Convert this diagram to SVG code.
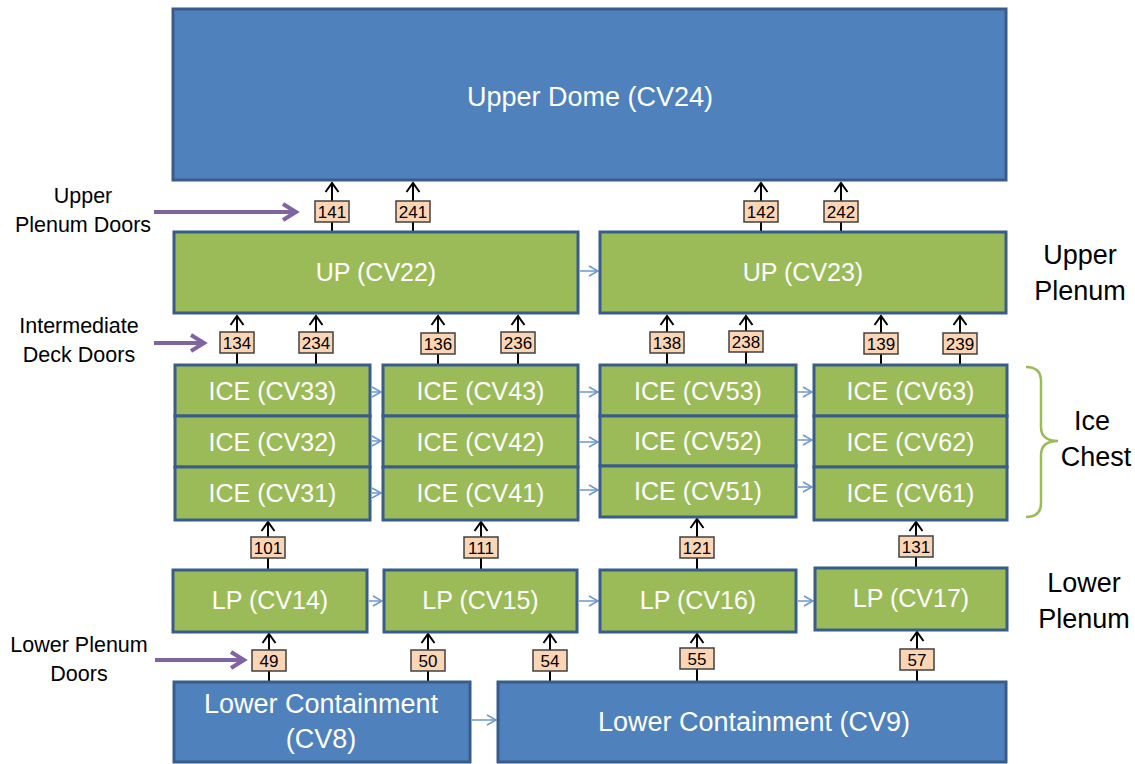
<svg xmlns="http://www.w3.org/2000/svg" width="1135" height="764" viewBox="0 0 1135 764">
<defs>
<style>
.blue{fill:#4f81bd;stroke:#385d8a;stroke-width:3}
.green{fill:#9bbb59;stroke:#385d8a;stroke-width:3}
.nt{font-family:"Liberation Sans",Arial,sans-serif;fill:#fff;text-anchor:middle;font-size:25px}
.big{font-size:27px}
.side{font-family:"Liberation Sans",Arial,sans-serif;fill:#000;text-anchor:middle;font-size:21.5px}
.rl{font-family:"Liberation Sans",Arial,sans-serif;fill:#000;text-anchor:middle;font-size:27px}
.door rect{fill:#fcd5b5;stroke:#404040;stroke-width:1.5}
.door text{font-family:"Liberation Sans",Arial,sans-serif;font-size:17px;fill:#000;text-anchor:middle}
.door line{stroke:#000;stroke-width:2;marker-end:url(#ah)}
.lb{stroke:#6d97cf;stroke-width:1.5;marker-end:url(#ahb)}
.pu{stroke:#8064a2;stroke-width:4;marker-end:url(#ahp)}
</style>
<marker id="ah" markerUnits="userSpaceOnUse" markerWidth="24" markerHeight="24" viewBox="-12 -12 24 24" refX="0" refY="0" orient="auto" overflow="visible"><path d="M-9,-6.5 L0,0 L-9,6.5" fill="none" stroke="#000" stroke-width="2"/></marker>
<marker id="ahb" markerUnits="userSpaceOnUse" markerWidth="24" markerHeight="24" viewBox="-12 -12 24 24" refX="0" refY="0" orient="auto" overflow="visible"><path d="M-9,-5 L0,0 L-9,5" fill="none" stroke="#6d97cf" stroke-width="1.5"/></marker>
<marker id="ahp" markerUnits="userSpaceOnUse" markerWidth="40" markerHeight="40" viewBox="-20 -20 40 40" refX="0" refY="0" orient="auto" overflow="visible"><path d="M-14,-8 L-1,0 L-14,8" fill="none" stroke="#8064a2" stroke-width="4"/></marker>
</defs>

<!-- connectors -->
<g id="connectors">
  <g class="door"><line x1="332" y1="231" x2="332" y2="183"/><rect x="315" y="201" width="34" height="21"/><text x="332" y="217.5">141</text></g>
  <g class="door"><line x1="413" y1="231" x2="413" y2="183"/><rect x="396" y="201" width="34" height="21"/><text x="413" y="217.5">241</text></g>
  <g class="door"><line x1="761" y1="231" x2="761" y2="183"/><rect x="744" y="201" width="34" height="21"/><text x="761" y="217.5">142</text></g>
  <g class="door"><line x1="841" y1="231" x2="841" y2="183"/><rect x="824" y="201" width="34" height="21"/><text x="841" y="217.5">242</text></g>

  <g class="door"><line x1="237" y1="364" x2="237" y2="316"/><rect x="220" y="332" width="34" height="21"/><text x="237" y="348.5">134</text></g>
  <g class="door"><line x1="316" y1="364" x2="316" y2="316"/><rect x="299" y="332" width="34" height="21"/><text x="316" y="348.5">234</text></g>
  <g class="door"><line x1="438" y1="364" x2="438" y2="316"/><rect x="421" y="333" width="34" height="21"/><text x="438" y="349.5">136</text></g>
  <g class="door"><line x1="518" y1="364" x2="518" y2="316"/><rect x="501" y="332" width="34" height="21"/><text x="518" y="348.5">236</text></g>
  <g class="door"><line x1="667" y1="364" x2="667" y2="316"/><rect x="650" y="332" width="34" height="21"/><text x="667" y="348.5">138</text></g>
  <g class="door"><line x1="746" y1="364" x2="746" y2="316"/><rect x="729" y="331" width="34" height="21"/><text x="746" y="347.5">238</text></g>
  <g class="door"><line x1="881" y1="364" x2="881" y2="316"/><rect x="864" y="333" width="34" height="21"/><text x="881" y="349.5">139</text></g>
  <g class="door"><line x1="960" y1="364" x2="960" y2="316"/><rect x="943" y="333" width="34" height="21"/><text x="960" y="349.5">239</text></g>

  <g class="door"><line x1="268" y1="569" x2="268" y2="522"/><rect x="251" y="537" width="34" height="21"/><text x="268" y="553.5">101</text></g>
  <g class="door"><line x1="481" y1="569" x2="481" y2="522"/><rect x="464" y="537" width="34" height="21"/><text x="481" y="553.5">111</text></g>
  <g class="door"><line x1="697" y1="569" x2="697" y2="519"/><rect x="680" y="537" width="34" height="21"/><text x="697" y="553.5">121</text></g>
  <g class="door"><line x1="916" y1="567" x2="916" y2="522"/><rect x="899" y="536" width="34" height="21"/><text x="916" y="552.5">131</text></g>

  <g class="door"><line x1="269" y1="681" x2="269" y2="634"/><rect x="252" y="650" width="34" height="21"/><text x="269" y="666.5">49</text></g>
  <g class="door"><line x1="428" y1="681" x2="428" y2="634"/><rect x="411" y="650" width="34" height="21"/><text x="428" y="666.5">50</text></g>
  <g class="door"><line x1="550" y1="681" x2="550" y2="634"/><rect x="533" y="650" width="34" height="21"/><text x="550" y="666.5">54</text></g>
  <g class="door"><line x1="697" y1="681" x2="697" y2="634"/><rect x="680" y="648" width="34" height="21"/><text x="697" y="664.5">55</text></g>
  <g class="door"><line x1="917" y1="681" x2="917" y2="632"/><rect x="900" y="649" width="34" height="21"/><text x="917" y="665.5">57</text></g>

  <line class="lb" x1="580" y1="271" x2="598" y2="271"/>
  <line class="lb" x1="372" y1="392" x2="381" y2="392"/>
  <line class="lb" x1="372" y1="441" x2="381" y2="441"/>
  <line class="lb" x1="372" y1="493" x2="381" y2="493"/>
  <line class="lb" x1="580" y1="392" x2="598" y2="392"/>
  <line class="lb" x1="580" y1="442" x2="598" y2="442"/>
  <line class="lb" x1="580" y1="490" x2="598" y2="490"/>
  <line class="lb" x1="798" y1="392" x2="812" y2="392"/>
  <line class="lb" x1="798" y1="440" x2="812" y2="440"/>
  <line class="lb" x1="798" y1="487" x2="812" y2="487"/>
  <line class="lb" x1="369" y1="601" x2="382" y2="601"/>
  <line class="lb" x1="579" y1="601" x2="598" y2="601"/>
  <line class="lb" x1="798" y1="601" x2="813" y2="601"/>
  <line class="lb" x1="472" y1="720" x2="496" y2="720"/>

  <line class="pu" x1="154" y1="212" x2="297" y2="212"/>
  <line class="pu" x1="154" y1="343" x2="205" y2="343"/>
  <line class="pu" x1="155" y1="660" x2="245" y2="660"/>
</g>

<!-- nodes -->
<g id="cv24"><rect class="blue" x="173" y="9" width="833" height="171"/><text class="nt big" x="590" y="106">Upper Dome (CV24)</text></g>
<g id="cv22"><rect class="green" x="174" y="232" width="404" height="81"/><text class="nt" x="376" y="281">UP (CV22)</text></g>
<g id="cv23"><rect class="green" x="600" y="232" width="406" height="81"/><text class="nt" x="803" y="281">UP (CV23)</text></g>

<g id="cv33"><rect class="green" x="175" y="365" width="195" height="51"/><text class="nt" x="272.5" y="400">ICE (CV33)</text></g>
<g id="cv32"><rect class="green" x="175" y="416" width="195" height="51"/><text class="nt" x="272.5" y="451">ICE (CV32)</text></g>
<g id="cv31"><rect class="green" x="175" y="467" width="195" height="53"/><text class="nt" x="272.5" y="502">ICE (CV31)</text></g>
<g id="cv43"><rect class="green" x="383" y="365" width="195" height="51"/><text class="nt" x="480.5" y="400">ICE (CV43)</text></g>
<g id="cv42"><rect class="green" x="383" y="416" width="195" height="51"/><text class="nt" x="480.5" y="451">ICE (CV42)</text></g>
<g id="cv41"><rect class="green" x="383" y="467" width="195" height="53"/><text class="nt" x="480.5" y="502">ICE (CV41)</text></g>
<g id="cv53"><rect class="green" x="600" y="365" width="196" height="51"/><text class="nt" x="698" y="400">ICE (CV53)</text></g>
<g id="cv52"><rect class="green" x="600" y="416" width="196" height="50"/><text class="nt" x="698" y="450">ICE (CV52)</text></g>
<g id="cv51"><rect class="green" x="600" y="466" width="196" height="51"/><text class="nt" x="698" y="500">ICE (CV51)</text></g>
<g id="cv63"><rect class="green" x="814" y="365" width="193" height="51"/><text class="nt" x="910.5" y="400">ICE (CV63)</text></g>
<g id="cv62"><rect class="green" x="814" y="416" width="193" height="51"/><text class="nt" x="910.5" y="451">ICE (CV62)</text></g>
<g id="cv61"><rect class="green" x="814" y="467" width="193" height="53"/><text class="nt" x="910.5" y="502">ICE (CV61)</text></g>

<g id="cv14"><rect class="green" x="173" y="570" width="194" height="62"/><text class="nt" x="270" y="609">LP (CV14)</text></g>
<g id="cv15"><rect class="green" x="384" y="570" width="193" height="62"/><text class="nt" x="480.5" y="609">LP (CV15)</text></g>
<g id="cv16"><rect class="green" x="600" y="570" width="196" height="62"/><text class="nt" x="698" y="609">LP (CV16)</text></g>
<g id="cv17"><rect class="green" x="815" y="568" width="192" height="62"/><text class="nt" x="911" y="607">LP (CV17)</text></g>

<g id="cv8"><rect class="blue" x="174" y="682" width="296" height="80"/><text class="nt big" x="321" y="713">Lower Containment</text><text class="nt big" x="321" y="748">(CV8)</text></g>
<g id="cv9"><rect class="blue" x="498" y="682" width="508" height="80"/><text class="nt big" x="754" y="731">Lower Containment (CV9)</text></g>

<!-- side labels -->
<g id="labels">
  <text class="side" x="83" y="203">Upper</text>
  <text class="side" x="83" y="232">Plenum Doors</text>
  <text class="side" x="79" y="333">Intermediate</text>
  <text class="side" x="79" y="362">Deck Doors</text>
  <text class="side" x="79" y="652">Lower Plenum</text>
  <text class="side" x="79" y="681">Doors</text>
  <text class="rl" x="1080" y="264">Upper</text>
  <text class="rl" x="1080" y="300">Plenum</text>
  <text class="rl" x="1092" y="430">Ice</text>
  <text class="rl" x="1096" y="466">Chest</text>
  <text class="rl" x="1084" y="592">Lower</text>
  <text class="rl" x="1084" y="628">Plenum</text>
  <path d="M1026,367 Q1041,367 1041,381 L1041,427 Q1041,441 1058,441 Q1041,441 1041,455 L1041,503 Q1041,517 1026,517" fill="none" stroke="#9bbb59" stroke-width="2.5"/>
</g>
</svg>
